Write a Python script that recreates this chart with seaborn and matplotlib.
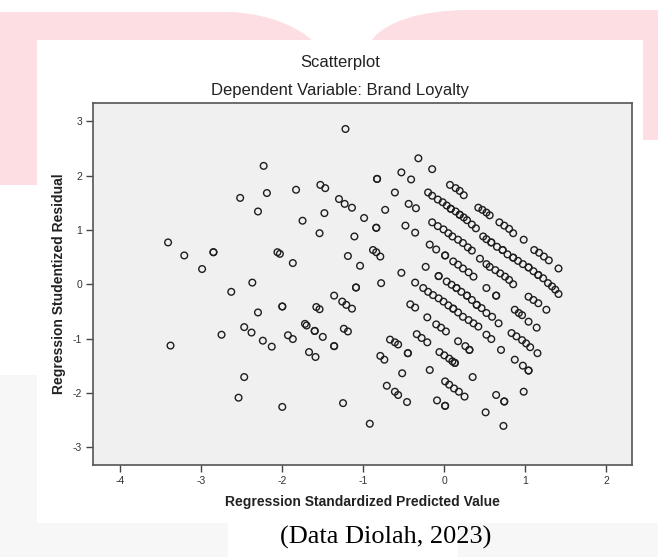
import pandas as pd
import seaborn as sns
import matplotlib.pyplot as plt
from matplotlib.patches import Rectangle, PathPatch
from matplotlib.path import Path

W, H = 658, 557

# (standardized predicted value, studentized residual)
left_points = [
    (-3.41, 0.77), (-3.21, 0.53), (-2.99, 0.28), (-2.85, 0.59), (-2.85, 0.59),
    (-2.63, -0.14), (-2.52, 1.59), (-2.37, 0.03), (-2.23, 2.18), (-2.19, 1.68),
    (-2.30, 1.34), (-2.30, -0.52), (-2.47, -0.79), (-2.38, -0.89), (-2.75, -0.93),
    (-3.38, -1.13), (-2.24, -1.04), (-2.13, -1.15), (-1.83, 1.74), (-1.75, 1.17),
    (-2.06, 0.59), (-2.03, 0.56), (-1.87, 0.39), (-2.00, -0.41), (-2.00, -0.41),
    (-1.93, -0.94), (-1.87, -1.01), (-1.72, -0.73), (-1.70, -0.76), (-1.60, -0.86),
    (-1.60, -0.86), (-1.50, -0.97), (-1.58, -0.42), (-1.54, -0.46), (-1.53, 1.83),
    (-1.47, 1.77), (-1.48, 1.31), (-1.54, 0.94), (-1.67, -1.25), (-1.59, -1.34),
    (-2.47, -1.71), (-2.54, -2.09), (-2.00, -2.26),
]

middle_points = [
    (-1.22, 2.86), (-1.30, 1.57), (-1.23, 1.48), (-1.14, 1.41), (-0.99, 1.22),
    (-1.11, 0.88), (-0.83, 1.94), (-0.83, 1.94), (-0.84, 1.04), (-0.84, 1.04),
    (-0.88, 0.63), (-0.84, 0.59), (-0.79, 0.51), (-1.19, 0.52), (-1.04, 0.34),
    (-1.09, -0.06), (-1.09, -0.06), (-0.78, 0.02), (-1.36, -0.21), (-1.26, -0.32),
    (-1.21, -0.38), (-1.14, -0.45), (-1.36, -1.14), (-1.36, -1.14), (-1.24, -0.82),
    (-1.19, -0.87), (-0.79, -1.32), (-0.74, -1.39), (-1.25, -2.19), (-0.92, -2.57),
    (-0.53, 0.21),
]

upper_bands = [
    (-0.32, 2.32), (-0.15, 2.12), (-0.53, 2.06), (-0.41, 1.93), (-0.61, 1.69),
    (-0.73, 1.37), (-0.44, 1.48), (-0.35, 1.40), (-0.48, 1.08), (-0.36, 0.95),
    (0.07, 1.83), (0.14, 1.77), (0.19, 1.72), (0.24, 1.64),
    (-0.20, 1.69), (-0.15, 1.63), (-0.08, 1.56), (-0.02, 1.51), (0.03, 1.45),
    (0.08, 1.39), (0.14, 1.34), (0.19, 1.28), (0.24, 1.23), (0.28, 1.18),
    (0.34, 1.10), (0.39, 1.03), (0.08, 1.39), (0.19, 1.28),
    (0.42, 1.41), (0.47, 1.37), (0.52, 1.32), (0.56, 1.27),
    (0.68, 1.14), (0.74, 1.08), (0.80, 1.02), (0.85, 0.94), (0.98, 0.82),
    (1.11, 0.63), (1.17, 0.58), (1.23, 0.51), (1.29, 0.44), (1.41, 0.29),
    (-0.15, 1.14), (-0.08, 1.07), (-0.01, 1.01), (0.05, 0.94), (0.10, 0.88),
    (0.17, 0.82), (0.23, 0.76), (0.29, 0.68), (0.34, 0.62), (0.48, 0.88),
    (0.52, 0.83), (0.58, 0.77), (0.65, 0.69), (0.72, 0.63), (0.78, 0.55),
    (0.85, 0.49), (0.91, 0.43), (0.97, 0.37), (1.04, 0.31), (1.10, 0.24),
    (1.16, 0.17), (1.22, 0.11), (1.28, 0.02), (1.33, -0.04), (1.37, -0.10),
    (1.41, -0.18), (0.58, 0.77), (0.72, 0.63), (0.85, 0.49), (1.04, 0.31),
    (1.16, 0.17),
    (-0.18, 0.73), (-0.10, 0.64), (0.01, 0.53), (0.01, 0.53),
    (0.11, 0.42), (0.17, 0.36), (0.23, 0.29), (0.30, 0.22), (0.36, 0.14),
    (0.44, 0.47), (0.52, 0.37), (0.56, 0.32), (0.63, 0.26), (0.69, 0.20),
    (0.75, 0.14), (0.80, 0.08), (0.85, 0.00),
    (-0.23, 0.32), (-0.07, 0.15), (-0.07, 0.15),
]

lower_bands = [
    (0.03, 0.05), (0.09, -0.01), (0.15, -0.07), (0.21, -0.14), (0.28, -0.21),
    (0.34, -0.29), (0.40, -0.38), (0.46, -0.44), (0.52, -0.53), (0.59, -0.60),
    (0.67, -0.72), (0.15, -0.07), (0.28, -0.21), (0.40, -0.38),
    (-0.36, 0.03),
    (-0.26, -0.07), (-0.20, -0.14), (-0.14, -0.20), (-0.07, -0.26), (-0.01, -0.32),
    (0.05, -0.39), (0.11, -0.45), (0.17, -0.52), (0.23, -0.60), (0.30, -0.66),
    (0.36, -0.72), (0.42, -0.78), (0.52, -0.93), (0.58, -1.01), (0.11, -0.45),
    (-0.42, -0.37), (-0.36, -0.43), (-0.21, -0.61),
    (-0.10, -0.74), (-0.04, -0.80), (0.02, -0.87),
    (-0.34, -0.92), (-0.28, -0.99), (-0.21, -1.07),
    (-0.67, -1.02), (-0.61, -1.07), (-0.57, -1.11), (-0.45, -1.27), (-0.45, -1.27),
    (-0.52, -1.64), (-0.71, -1.87), (-0.61, -1.98), (-0.57, -2.04), (-0.46, -2.17),
    (0.17, -1.05), (0.26, -1.14), (0.31, -1.21), (0.31, -1.21),
    (-0.06, -1.25), (0.00, -1.31), (0.06, -1.37), (0.10, -1.42), (0.13, -1.45),
    (0.13, -1.45), (-0.18, -1.58), (0.35, -1.71),
    (0.01, -1.79), (0.06, -1.85), (0.12, -1.92), (0.18, -1.98), (0.25, -2.07),
    (-0.09, -2.14), (0.01, -2.24), (0.01, -2.24), (0.51, -2.36),
    (0.64, -2.04), (0.74, -2.16), (0.74, -2.16), (0.73, -2.61), (0.98, -1.98),
    (0.87, -1.39), (0.97, -1.50), (1.04, -1.59), (1.04, -1.59),
    (0.83, -0.90), (0.89, -0.96), (0.96, -1.03), (1.01, -1.09), (1.06, -1.16),
    (1.15, -1.27), (0.70, -1.21),
    (0.87, -0.47), (0.92, -0.53), (0.96, -0.57), (1.04, -0.69), (1.14, -0.80),
    (1.26, -0.47), (1.04, -0.23), (1.10, -0.29), (1.16, -0.35),
    (0.64, -0.21), (0.64, -0.21), (0.52, -0.07),
]

x_ticks = [-4, -3, -2, -1, 0, 1, 2]
y_ticks = [-3, -2, -1, 0, 1, 2, 3]

df = pd.DataFrame(left_points + middle_points + upper_bands + lower_bands,
                  columns=['pred', 'resid'])


def fx(px):
    return px / W


def fy(py):
    return 1 - py / H


def fig_path(verts, codes, color):
    return PathPatch(Path([(fx(a), fy(b)) for a, b in verts], codes),
                     transform=fig.transFigure, facecolor=color,
                     edgecolor='none', zorder=0)


sns.set_theme(style='white')
plt.rcParams['font.family'] = ['Liberation Sans', 'DejaVu Sans']

fig = plt.figure(figsize=(W / 100, H / 100), dpi=100)
fig.patch.set_facecolor('white')

# pink watermark of the scanned page behind the chart panel
pink = '#FDDEE2'
M, L, C, X = Path.MOVETO, Path.LINETO, Path.CURVE4, Path.CLOSEPOLY
fig.patches.append(fig_path(
    [(0, 12), (230, 12), (275, 14), (300, 30), (312, 40), (37, 40), (37, 185),
     (0, 185), (0, 12)],
    [M, L, C, C, C, L, L, L, X], pink))
fig.patches.append(fig_path(
    [(372, 40), (385, 22), (420, 10), (470, 10), (658, 10), (658, 140),
     (643, 140), (643, 40), (372, 40)],
    [M, C, C, C, L, L, L, L, X], pink))
for (x0, y0, x1, y1) in [(0, 523, 228, 557), (458, 523, 658, 557), (0, 375, 37, 523)]:
    fig.patches.append(Rectangle((fx(x0), fy(y1)), fx(x1) - fx(x0), fy(y0) - fy(y1),
                                 transform=fig.transFigure, facecolor='#F7F7F7',
                                 edgecolor='none', zorder=0))

ax = fig.add_axes([fx(93.3), fy(465), fx(632) - fx(93.3), fy(103.3) - fy(465)])
ax.set_facecolor('#F0F0F0')

sns.scatterplot(data=df, x='pred', y='resid', ax=ax, s=23, facecolor='none',
                edgecolor='#1e1e1e', linewidth=1.0, legend=False, zorder=3)

ax.set_xlim(-4.333, 2.317)
ax.set_ylim(-3.33, 3.333)
ax.set_xticks(x_ticks)
ax.set_yticks(y_ticks)
ax.set_xticklabels([str(t) for t in x_ticks])
ax.set_yticklabels([str(t) for t in y_ticks])
ax.tick_params(axis='both', direction='out', length=5, width=1, color='#444444',
               labelsize=7.5, labelcolor='#333333', pad=3,
               bottom=True, left=True, top=False, right=False)
for sp in ax.spines.values():
    sp.set_visible(True)
    sp.set_color('#555555')
    sp.set_linewidth(1.2)

ax.set_xlabel('Regression Standardized Predicted Value', fontsize=10,
              fontweight='bold', color='#222222')
ax.set_ylabel('Regression Studentized Residual', fontsize=10,
              fontweight='bold', color='#222222')
ax.xaxis.set_label_coords(0.5, -0.083)
ax.yaxis.set_label_coords(-0.05, 0.5)

fig.text(fx(340), fy(63), 'Scatterplot', ha='center', va='center',
         fontsize=12, color='#222222')
fig.text(fx(340), fy(91), 'Dependent Variable: Brand Loyalty', ha='center',
         va='center', fontsize=12, color='#222222')
fig.text(fx(386), fy(537), '(Data Diolah, 2023)', ha='center', va='center',
         fontsize=19, family=['Liberation Serif', 'DejaVu Serif'], color='black')

fig.savefig('out.png', dpi=100)
